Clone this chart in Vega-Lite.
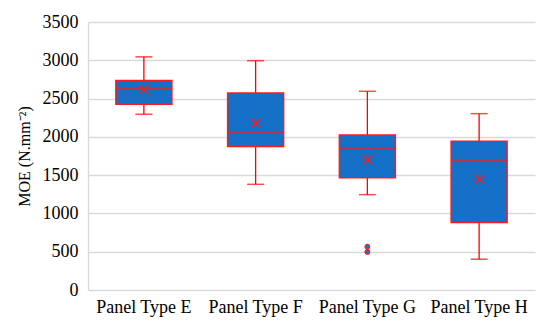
{
  "$schema": "https://vega.github.io/schema/vega-lite/v6.json",
  "autosize": {"type": "fit", "contains": "padding"},
  "width": 550,
  "height": 332,
  "padding": {"left": 16, "right": 15, "top": 13, "bottom": 16},
  "background": "white",
  "config": {
    "view": {"stroke": null},
    "font": "Liberation Serif",
    "style": {"guide-label": {"font": "Liberation Serif", "fill": "#000"}, "guide-title": {"font": "Liberation Serif", "fill": "#000"}},
    "axis": {"labelFont": "Liberation Serif", "titleFont": "Liberation Serif"},
    "axisX": {"labelFont": "Liberation Serif", "labelFontSize": 18, "labelColor": "#000"},
    "axisY": {"labelFont": "Liberation Serif", "titleFont": "Liberation Serif", "tickCount": 7, "format": "d", "labelFontSize": 18, "labelColor": "#000", "titleFontSize": 16, "titleFontWeight": "normal", "titleColor": "#000",
      "grid": true, "gridColor": "#d9d9d9", "gridWidth": 1.3, "domain": true, "domainColor": "#d9d9d9", "domainWidth": 1.3, "ticks": false, "labelPadding": 10, "titlePadding": 10, "labelOverlap": false}
  },
  "datasets": {
    "stats": [
      {"panel": "Panel Type E", "lower": 2295, "q1": 2425, "median": 2628, "q3": 2735, "upper": 3045, "mean": 2618},
      {"panel": "Panel Type F", "lower": 1380, "q1": 1875, "median": 2058, "q3": 2573, "upper": 2995, "mean": 2180},
      {"panel": "Panel Type G", "lower": 1245, "q1": 1465, "median": 1848, "q3": 2023, "upper": 2595, "mean": 1700},
      {"panel": "Panel Type H", "lower": 402, "q1": 882, "median": 1691, "q3": 1944, "upper": 2303, "mean": 1446}
    ],
    "outliers": [
      {"panel": "Panel Type G", "value": 565},
      {"panel": "Panel Type G", "value": 498}
    ]
  },
  "data": {"name": "stats"},
  "encoding": {
    "x": {"field": "panel", "type": "nominal", "sort": null, "scale": {"paddingInner": 0, "paddingOuter": 0},
      "axis": {"title": null, "labelAngle": 0, "domain": false, "ticks": false, "labelPadding": 8, "grid": false}}
  },
  "layer": [
    {
      "mark": {"type": "rule", "color": "#ff0000", "strokeWidth": 1.3},
      "encoding": {
        "y": {"field": "lower", "type": "quantitative", "scale": {"domain": [0, 3500], "nice": false, "zero": true},
          "axis": {"title": "MOE (N.mm⁻²)"}},
        "y2": {"field": "upper"}
      }
    },
    {
      "mark": {"type": "tick", "color": "#ff0000", "size": 17, "thickness": 1.5, "orient": "horizontal"},
      "encoding": {"y": {"field": "lower", "type": "quantitative", "axis": {"title": "MOE (N.mm⁻²)"}}}
    },
    {
      "mark": {"type": "tick", "color": "#ff0000", "size": 17, "thickness": 1.5, "orient": "horizontal"},
      "encoding": {"y": {"field": "upper", "type": "quantitative", "axis": {"title": "MOE (N.mm⁻²)"}}}
    },
    {
      "mark": {"type": "bar", "size": 56, "fill": "#1570c8", "stroke": "#ff1a1a", "strokeWidth": 1.5},
      "encoding": {"y": {"field": "q1", "type": "quantitative", "axis": {"title": "MOE (N.mm⁻²)"}}, "y2": {"field": "q3"}}
    },
    {
      "mark": {"type": "tick", "color": "#ff1a1a", "size": 56, "thickness": 2, "orient": "horizontal"},
      "encoding": {"y": {"field": "median", "type": "quantitative", "axis": {"title": "MOE (N.mm⁻²)"}}}
    },
    {
      "mark": {"type": "point", "shape": "M-1,-1L1,1M-1,1L1,-1", "filled": false, "stroke": "#ff1a1a", "strokeWidth": 1.5, "size": 90, "opacity": 1},
      "encoding": {"y": {"field": "mean", "type": "quantitative", "axis": {"title": "MOE (N.mm⁻²)"}}}
    },
    {
      "data": {"name": "outliers"},
      "mark": {"type": "point", "shape": "circle", "filled": true, "fill": "#1570c8", "stroke": "#ff1a1a", "strokeWidth": 1.2, "size": 22, "opacity": 1},
      "encoding": {"y": {"field": "value", "type": "quantitative", "axis": {"title": "MOE (N.mm⁻²)"}}}
    }
  ]
}
